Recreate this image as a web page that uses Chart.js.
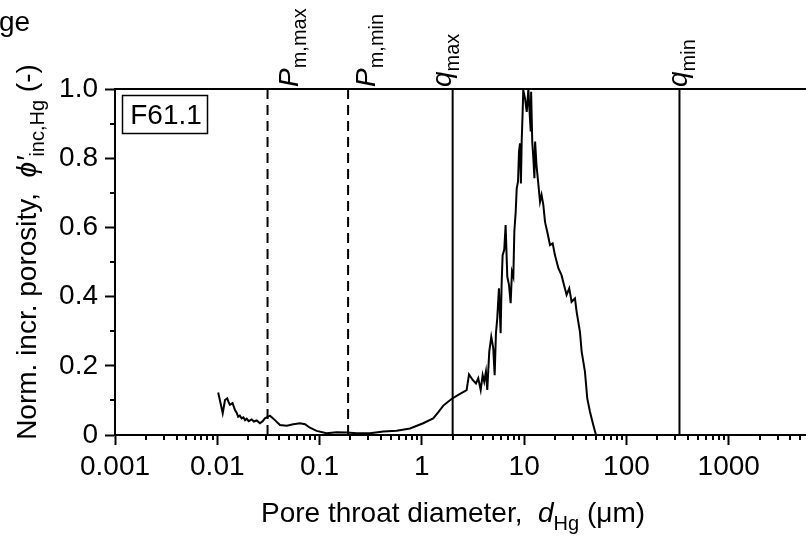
<!DOCTYPE html>
<html>
<head>
<meta charset="utf-8">
<script src="https://cdn.jsdelivr.net/npm/chart.js@4.4.0/dist/chart.umd.min.js"></script>
<style>
  html, body { margin: 0; padding: 0; background: #fff; overflow: hidden; }
  #wrap { width: 860px; height: 537px; }
</style>
</head>
<body>
<div id="wrap"><canvas id="poroChart" width="860" height="537"></canvas></div>
<script>
// pore throat diameter (um) and normalised incremental porosity
const poreDiameter = [
  0.0102, 0.0108, 0.0113, 0.0119, 0.0125, 0.0129, 0.0133, 0.0141, 0.0149, 0.0155,
  0.016, 0.0166, 0.0173, 0.018, 0.0187, 0.0194, 0.0203, 0.0217, 0.0228, 0.0243,
  0.0261, 0.0278, 0.0292, 0.0327, 0.0345, 0.0366, 0.041, 0.0477, 0.0553, 0.0643,
  0.072, 0.0805, 0.0935, 0.117, 0.147, 0.184, 0.231, 0.311, 0.42, 0.567,
  0.766, 1.03, 1.29, 1.45, 1.62, 1.95, 2.27, 2.74, 2.89, 3.14,
  3.38, 3.56, 3.76, 3.93, 4.07, 4.23, 4.36, 4.56, 4.77, 4.99,
  5.15, 5.3, 5.46, 5.67, 5.89, 6.02, 6.16, 6.39, 6.59, 6.84,
  7.11, 7.38, 7.6, 7.84, 8.02, 8.27, 8.46, 8.71, 8.91, 9.11,
  9.3, 9.46, 9.67, 9.8, 10.2, 10.6, 11.0, 11.2, 11.6, 11.7,
  12.0, 12.3, 12.6, 12.8, 13.2, 13.7, 14.3, 14.8, 15.4, 16.0,
  16.8, 17.9, 19.0, 20.0, 21.6, 23.2, 24.5, 26.0, 27.6, 29.1,
  31.4, 32.6, 35.1, 36.5, 39.3, 41.4, 44.0, 47.4, 50.4, 70, 90
];
const incPorosity = [
  0.123, 0.09, 0.063, 0.101, 0.106, 0.095, 0.087, 0.092, 0.072, 0.064,
  0.053, 0.056, 0.048, 0.051, 0.043, 0.047, 0.04, 0.045, 0.039, 0.042,
  0.034, 0.04, 0.048, 0.056, 0.05, 0.043, 0.029, 0.027, 0.031, 0.034,
  0.031, 0.021, 0.012, 0.005, 0.008, 0.007, 0.005, 0.005, 0.01, 0.012,
  0.019, 0.034, 0.048, 0.066, 0.085, 0.104, 0.116, 0.13, 0.175, 0.159,
  0.149, 0.164, 0.13, 0.173, 0.154, 0.183, 0.13, 0.241, 0.284, 0.251,
  0.173, 0.294, 0.337, 0.424, 0.294, 0.434, 0.52, 0.535, 0.607, 0.458,
  0.434, 0.381, 0.472, 0.458, 0.588, 0.645, 0.713, 0.732, 0.819, 0.843,
  0.727, 0.848, 0.934, 0.997, 0.973, 0.934, 1.0, 0.954, 0.877, 0.992,
  0.848, 0.8, 0.742, 0.848, 0.78, 0.732, 0.674, 0.694, 0.665, 0.616,
  0.588, 0.549, 0.554, 0.52, 0.482, 0.462, 0.434, 0.405, 0.424, 0.385,
  0.395, 0.356, 0.299, 0.241, 0.183, 0.106, 0.067, 0.029, 0, 0, 0
];

// characteristic diameters marked with vertical lines
const markerNames = ["P", "P", "q", "q"];
const markerSubs = ["m,max", "m,min", "max", "min"];
const markerValues = [0.031, 0.19, 2.0, 330];
const markerDashed = [true, true, false, false];

const xTickValues = [0.001, 0.01, 0.1, 1, 10, 100, 1000];
const xTickLabels = ["0.001", "0.01", "0.1", "1", "10", "100", "1000"];
const yTickValues = [0, 0.2, 0.4, 0.6, 0.8, 1.0];
const yTickLabels = ["0", "0.2", "0.4", "0.6", "0.8", "1.0"];
const sampleName = "F61.1";

const FAM = '"Liberation Sans", Arial, sans-serif';
const labelShift = [30, 27, -2, 8]; // where each marker label sits next to its line

function drawRich(ctx, parts, x, y, angle, align) {
  ctx.save();
  ctx.translate(x, y);
  ctx.rotate(angle);
  let total = 0;
  parts.forEach(p => { ctx.font = p.font; total += ctx.measureText(p.text).width; });
  let cx = align === "center" ? -total / 2 : 0;
  ctx.textAlign = "left";
  ctx.textBaseline = "alphabetic";
  ctx.fillStyle = "#000";
  parts.forEach(p => {
    ctx.font = p.font;
    ctx.fillText(p.text, cx, p.dy || 0);
    cx += ctx.measureText(p.text).width;
  });
  ctx.restore();
}

const extras = {
  id: "extras",
  afterDraw(chart) {
    const ctx = chart.ctx;
    const a = chart.chartArea;
    const xs = chart.scales.x;
    const ys = chart.scales.y;
    ctx.save();
    ctx.strokeStyle = "#000";
    ctx.lineWidth = 2;

    // top and right frame
    ctx.beginPath();
    ctx.moveTo(a.left, a.top);
    ctx.lineTo(a.right, a.top);
    ctx.lineTo(a.right, a.bottom);
    ctx.stroke();

    // minor ticks
    ctx.beginPath();
    for (let v = 0.1; v < 1; v += 0.2) {
      const py = Math.round(ys.getPixelForValue(v));
      ctx.moveTo(a.left - 5, py);
      ctx.lineTo(a.left, py);
    }
    xTickValues.forEach(d => {
      for (let k = 2; k <= 9; k++) {
        const px = Math.round(xs.getPixelForValue(k * d));
        ctx.moveTo(px, a.bottom);
        ctx.lineTo(px, a.bottom + 5);
      }
    });
    ctx.stroke();

    // sample box
    ctx.lineWidth = 1.5;
    ctx.strokeRect(a.left + 7.5, a.top + 6.5, 85, 38);
    ctx.fillStyle = "#000";
    ctx.font = "28px " + FAM;
    ctx.textAlign = "center";
    ctx.textBaseline = "middle";
    ctx.fillText(sampleName, a.left + 51, a.top + 27);

    // marker labels above the plot
    markerValues.forEach((v, i) => {
      const px = xs.getPixelForValue(v) + labelShift[i];
      drawRich(ctx, [
        { text: markerNames[i], font: "italic 28px " + FAM },
        { text: markerSubs[i], font: "20px " + FAM, dy: 8 }
      ], px, a.top - 2, -Math.PI / 2, "left");
    });

    // axis titles
    drawRich(ctx, [
      { text: "Pore throat diameter,  ", font: "28px " + FAM },
      { text: "d", font: "italic 28px " + FAM },
      { text: "Hg", font: "20px " + FAM, dy: 8 },
      { text: " (\u03BCm)", font: "28px " + FAM }
    ], 453, 522, 0, "center");
    drawRich(ctx, [
      { text: "Norm. incr. porosity,  ", font: "28px " + FAM },
      { text: "\u03D5\u2032", font: "italic 28px " + FAM },
      { text: "inc,Hg", font: "20px " + FAM, dy: 8 },
      { text: " (-)", font: "28px " + FAM }
    ], 36, 252, -Math.PI / 2, "center");

    // clipped title fragment top-left
    ctx.font = "28px " + FAM;
    ctx.textAlign = "left";
    ctx.textBaseline = "alphabetic";
    ctx.fillText("ge", -1, 31);
    ctx.restore();
  }
};

const datasets = [{
  data: poreDiameter.map((d, i) => ({ x: d, y: incPorosity[i] })),
  borderColor: "#000",
  borderWidth: 2,
  pointRadius: 0,
  showLine: true,
  tension: 0
}];
markerValues.forEach((v, i) => {
  datasets.push({
    data: [{ x: v, y: 0 }, { x: v, y: 1 }],
    borderColor: "#000",
    borderWidth: 2,
    borderDash: markerDashed[i] ? [10, 6] : [],
    pointRadius: 0,
    showLine: true
  });
});

new Chart(document.getElementById("poroChart"), {
  type: "scatter",
  data: { datasets: datasets },
  options: {
    responsive: false,
    animation: false,
    devicePixelRatio: 1,
    layout: { padding: { top: 89, right: 29, left: 0, bottom: 0 } },
    plugins: { legend: { display: false }, tooltip: { enabled: false } },
    scales: {
      x: {
        type: "logarithmic",
        min: 0.001,
        max: 10000,
        afterBuildTicks: s => { s.ticks = xTickValues.map(v => ({ value: v })); },
        afterFit: s => { s.height = 102; },
        ticks: {
          callback: (v, i) => xTickLabels[i],
          color: "#000",
          font: { size: 28, family: FAM },
          padding: 5,
          maxRotation: 0,
          autoSkip: false
        },
        grid: { drawOnChartArea: false, tickLength: 10, tickColor: "#000", tickWidth: 2 },
        border: { color: "#000", width: 2 }
      },
      y: {
        min: 0,
        max: 1,
        afterBuildTicks: s => { s.ticks = yTickValues.map(v => ({ value: v })); },
        afterFit: s => { s.width = 115; },
        ticks: {
          callback: (v, i) => yTickLabels[i],
          color: "#000",
          font: { size: 28, family: FAM },
          padding: 7
        },
        grid: { drawOnChartArea: false, tickLength: 10, tickColor: "#000", tickWidth: 2 },
        border: { color: "#000", width: 2 }
      }
    }
  },
  plugins: [extras]
});
</script>
</body>
</html>
